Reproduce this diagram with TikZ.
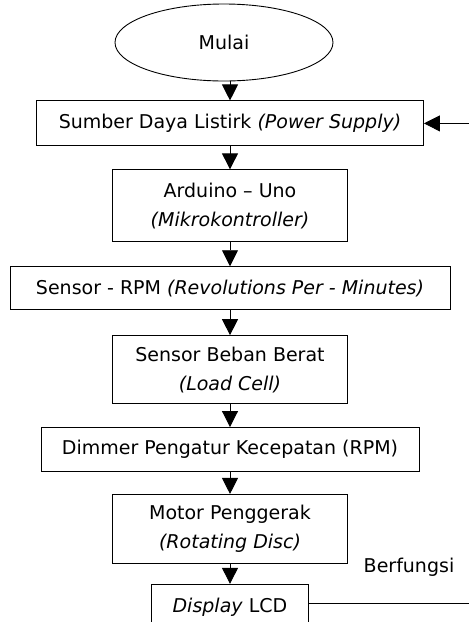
\documentclass[tikz,border=0pt]{standalone}
\usepackage{fontspec}
\setmainfont{DejaVu Sans}
\usetikzlibrary{positioning,arrows.meta,shapes.geometric}

\begin{document}
\begin{tikzpicture}[x=1pt,y=1pt,
			every node/.style={
				draw,
				align=center,
				inner sep=0pt,
				font=\fontsize{19}{29}\selectfont},
			line width=0.9pt,
			>={Triangle[width=16pt,length=16pt]}]
			
			\useasboundingbox (0,0) rectangle (469,-622);
			
			\node (mulai) [ellipse,minimum width=218pt,minimum height=77pt] at (224,-42.5) {Mulai};
			
			\node (power) [below=19pt of mulai,xshift=6pt,minimum width=387pt,minimum height=45pt] {Sumber Daya Listirk \textit{(Power Supply)}};
			
			\node (arduino) [below=23pt of power,minimum width=235pt,minimum height=72pt] {Arduino -- Uno\\\textit{(Mikrokontroller)}};
			
			\node (rpm) [below=24pt of arduino,minimum width=440pt,minimum height=43pt] {Sensor - RPM \textit{(Revolutions Per - Minutes)}};
			
			\node (loadcell) [below=25pt of rpm,minimum width=235pt,minimum height=68pt] {Sensor Beban Berat\\\textit{(Load Cell)}};
			
			\node (dimmer) [below=23pt of loadcell,minimum width=378pt,minimum height=44pt] {Dimmer Pengatur Kecepatan (RPM)};
			
			\node (motor) [below=22pt of dimmer,minimum width=235pt,minimum height=69pt] {Motor Penggerak\\\textit{(Rotating Disc)}};
			
			\node (lcd) [below=20pt of motor,minimum width=157pt,minimum height=46pt] {\textit{Display} LCD};
			
			\path (power.east) ++(52,0) coordinate (feedin);
			\path (lcd.east) ++(170,4) coordinate (lcdout);
			
			\draw[->] (mulai.south -| power) -- (power);
			\draw[->] (power)--(arduino);
			\draw[->] (arduino)--(rpm);
			\draw[->] (rpm)--(loadcell);
			\draw[->] (loadcell)--(dimmer);
			\draw[->] (dimmer)--(motor);
			\draw[->] (motor)--(lcd);
			
			\draw[->] (feedin)--(power.east);
			\draw ([yshift=4pt]lcd.east)--(lcdout);
			
			\node (fungsi) [draw=none] at (409,-567) {Berfungsi};
			
		\end{tikzpicture}
\end{document}
